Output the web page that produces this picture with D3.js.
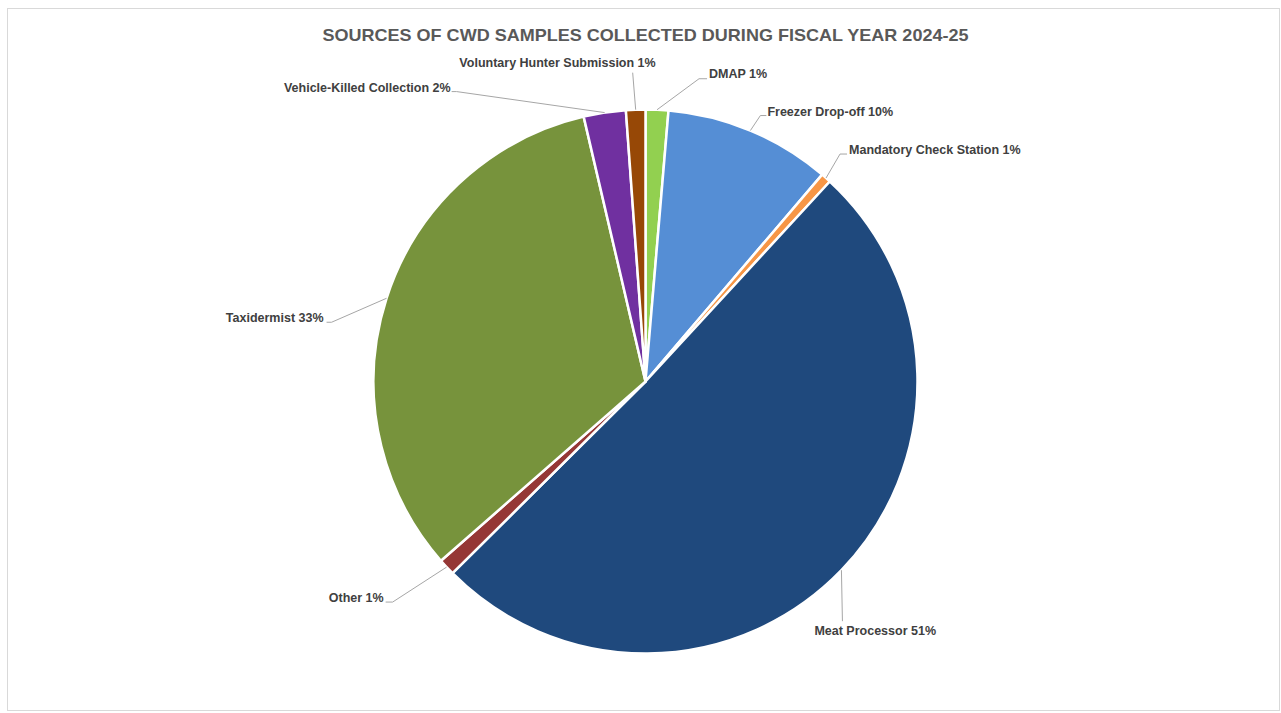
<!DOCTYPE html>
<html>
<head>
<meta charset="utf-8">
<script src="https://cdn.jsdelivr.net/npm/d3@7"></script>
<style>
  body { margin: 0; background: #fff; }
  svg { display: block; }
</style>
</head>
<body>
<svg id="chart"></svg>
<script>
// Slices, clockwise from 12 o'clock
const categories = ["DMAP", "Freezer Drop-off", "Mandatory Check Station", "Meat Processor",
  "Other", "Taxidermist", "Vehicle-Killed Collection", "Voluntary Hunter Submission"];
const shares = [1.35, 9.9, 0.6, 50.7, 1.0, 32.8, 2.5, 1.15];
const shownPct = ["1%", "10%", "1%", "51%", "1%", "33%", "2%", "1%"];
const colors = ["#92D050", "#558ED5", "#F79646", "#1F497D", "#953735", "#77933C", "#7030A0", "#974806"];

// Where each data label sits (Excel-style hand placed labels)
// ex/ey: elbow offset from slice edge, tail: horizontal piece, tx/ty: text offset
const labelLayout = [
  { ex: 42, ey: -31, tail: 8, tx: 2, ty: -5, anchor: "start" },
  { ex: 10, ey: -15, tail: 6, tx: 1, ty: -4, anchor: "start" },
  { ex: 14, ey: -24, tail: 7, tx: 2, ty: -4, anchor: "start" },
  { ex: 1, ey: 51, tail: 0, tx: -28, ty: 9, anchor: "start" },
  { ex: -54, ey: 35, tail: -7, tx: -2, ty: -4, anchor: "end" },
  { ex: -55, ey: 24, tail: -5, tx: -3, ty: -5, anchor: "end" },
  { ex: -148, ey: -21, tail: -5, tx: -1, ty: -4, anchor: "end" },
  { ex: -3, ey: -37, tail: 0, tx: 23, ty: -10, anchor: "end" }
];

const width = 1281, height = 713;
const cx = 645.5, cy = 381.5, radius = 272;

const svg = d3.select("#chart")
  .attr("width", width)
  .attr("height", height);

// chart area border
svg.append("rect")
  .attr("x", 7.5).attr("y", 8.5)
  .attr("width", 1272).attr("height", 702)
  .attr("fill", "#fff")
  .attr("stroke", "#D9D9D9")
  .attr("stroke-width", 1);

svg.append("text")
  .attr("x", cx)
  .attr("y", 35)
  .attr("dy", "0.35em")
  .attr("text-anchor", "middle")
  .attr("textLength", 646)
  .attr("lengthAdjust", "spacingAndGlyphs")
  .style("font-family", "'Liberation Sans', Arial, sans-serif")
  .style("font-weight", "bold")
  .style("font-size", "17px")
  .style("fill", "#595959")
  .text("SOURCES OF CWD SAMPLES COLLECTED DURING FISCAL YEAR 2024-25");

const slices = categories.map((c, i) => ({ name: c, value: shares[i], pct: shownPct[i], color: colors[i], lay: labelLayout[i] }));

const pie = d3.pie().sort(null).value(d => d.value);
const arc = d3.arc().innerRadius(0).outerRadius(radius);
const arcs = pie(slices);

const g = svg.append("g").attr("transform", `translate(${cx},${cy})`);

g.selectAll(".slice")
  .data(arcs)
  .enter()
  .append("path")
  .attr("class", "slice")
  .attr("d", arc)
  .attr("fill", d => d.data.color)
  .attr("stroke", "#fff")
  .attr("stroke-width", 2.5)
  .attr("stroke-linejoin", "round");

// leader lines + labels
const edgePoint = d => {
  const a = (d.startAngle + d.endAngle) / 2;
  return [radius * Math.sin(a), -radius * Math.cos(a)];
};

const labels = g.selectAll(".label")
  .data(arcs)
  .enter()
  .append("g")
  .attr("class", "label");

labels.append("polyline")
  .attr("points", d => {
    const [x0, y0] = edgePoint(d);
    const L = d.data.lay;
    const x1 = x0 + L.ex, y1 = y0 + L.ey;
    return [[x0, y0], [x1, y1], [x1 + L.tail, y1]].map(p => p.join(",")).join(" ");
  })
  .attr("fill", "none")
  .attr("stroke", "#A6A6A6")
  .attr("stroke-width", 1);

labels.append("text")
  .attr("x", d => { const L = d.data.lay; return edgePoint(d)[0] + L.ex + L.tail + L.tx; })
  .attr("y", d => { const L = d.data.lay; return edgePoint(d)[1] + L.ey + L.ty; })
  .attr("dy", "0.35em")
  .attr("text-anchor", d => d.data.lay.anchor)
  .style("font-family", "'Liberation Sans', Arial, sans-serif")
  .style("font-weight", "bold")
  .style("font-size", "12.5px")
  .style("fill", "#404040")
  .text(d => `${d.data.name} ${d.data.pct}`);
</script>
</body>
</html>
